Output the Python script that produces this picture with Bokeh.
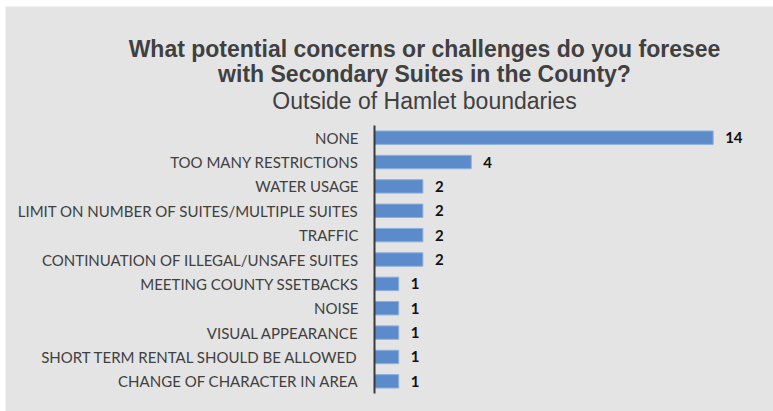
from bokeh.plotting import figure
from bokeh.models import ColumnDataSource, Range1d, Label, FixedTicker
from bokeh.core.properties import value
from bokeh.embed import file_html
from bokeh.resources import INLINE

categories = [
    "NONE",
    "TOO MANY RESTRICTIONS",
    "WATER USAGE",
    "LIMIT ON NUMBER OF SUITES/MULTIPLE SUITES",
    "TRAFFIC",
    "CONTINUATION OF ILLEGAL/UNSAFE SUITES",
    "MEETING COUNTY SSETBACKS",
    "NOISE",
    "VISUAL APPEARANCE",
    "SHORT TERM RENTAL SHOULD BE ALLOWED",
    "CHANGE OF CHARACTER IN AREA",
]
counts = [14, 4, 2, 2, 2, 2, 1, 1, 1, 1, 1]
count_labels = [str(c) for c in counts]

title_lines = [
    "What potential concerns or challenges do you foresee",
    "with Secondary Suites in the County?",
    "Outside of Hamlet boundaries",
]
title_styles = ["bold", "bold", "normal"]

BG = "#e4e4e4"
W, H = 768, 405
AXIS_PX = 369          # pixel position of the value-axis origin
PX_PER_UNIT = 24.19    # pixels per count
BAND_PX = 24.36        # pixels per category row
TOP_PX = 119           # space above the first category row
BOTTOM_PX = 18         # space below the last category row

n = len(categories)
row_pos = [n - 1 - i for i in range(n)]   # first category on top

source = ColumnDataSource(dict(cat=categories, val=counts, lbl=count_labels,
                               pos=row_pos, zero=[0] * n))

p = figure(
    width=W, height=H,
    x_range=Range1d(-AXIS_PX / PX_PER_UNIT, (W - AXIS_PX) / PX_PER_UNIT),
    y_range=Range1d(-0.5 - BOTTOM_PX / BAND_PX, n - 0.5 + TOP_PX / BAND_PX),
    output_backend="svg", toolbar_location=None, tools="",
    x_axis_type=None, y_axis_type=None,
    min_border=0, margin=(6, 0, 0, 5),
)
p.background_fill_color = BG
p.border_fill_color = BG
p.outline_line_color = None
p.grid.visible = False

p.hbar(y="pos", right="val", left=0, height=0.55, source=source,
       fill_color="#5b8bcb", line_color="#8db0de", line_width=1)

# value labels
p.text(x="val", y="pos", text="lbl", source=source,
       x_offset=12, text_align="left", text_baseline="middle",
       text_font=value("Lato"), text_font_style="bold",
       text_font_size="15px", text_color="#111111")

# category labels
p.text(x="zero", y="pos", text="cat", source=source,
       x_offset=-16, text_align="right", text_baseline="middle",
       text_font=value("Lato"), text_font_size="15px", text_color="#404040")

# category axis line spanning the rows
p.segment(x0=[0], y0=[-0.5], x1=[0], y1=[n - 0.5],
          line_color="#3a3a3a", line_width=2)

# heading
title_x = 419
title_baselines = [42, 67, 94]   # px from the top of the chart
for txt, st, yb in zip(title_lines, title_styles, title_baselines):
    p.add_layout(Label(
        x=title_x, y=H - yb, x_units="screen", y_units="screen", text=txt,
        text_align="center", text_baseline="alphabetic",
        text_font="Liberation Sans", text_font_style=st,
        text_font_size="23px", text_color="#404040",
    ))

open("out.html", "w").write(file_html(p, INLINE))
